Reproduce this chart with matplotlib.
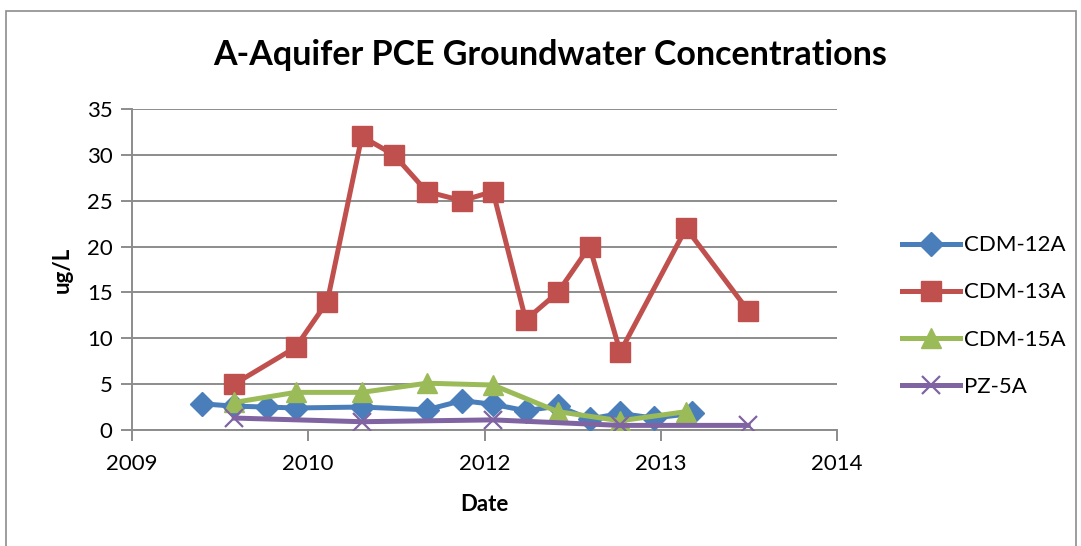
import matplotlib
matplotlib.use("Agg")
import matplotlib.pyplot as plt
import matplotlib.dates as mdates
from matplotlib.patches import Rectangle
import numpy as np

plt.rcParams['font.family'] = ['Lato', 'DejaVu Sans']

# sampling dates and PCE concentrations (ug/L)
dates_12a = ['2010-01-20', '2010-04-22', '2010-07-23', '2010-10-13', '2011-04-19',
             '2011-10-20', '2012-01-28', '2012-04-25', '2012-07-27', '2012-10-26',
             '2013-01-24', '2013-04-21', '2013-07-25', '2013-11-11']
cdm_12a = [2.85, 2.6, 2.5, 2.4, 2.5, 2.2, 3.2, 2.8, 2.1, 2.6, 1.2, 1.8, 1.3, 1.8]

dates_13a = ['2010-04-22', '2010-10-13', '2011-01-11', '2011-04-19', '2011-07-19',
             '2011-10-20', '2012-01-28', '2012-04-25', '2012-07-27', '2012-10-26',
             '2013-01-24', '2013-04-21', '2013-10-25', '2014-04-19']
cdm_13a = [5, 9, 14, 32, 30, 26, 25, 26, 12, 15, 20, 8.5, 22, 13]

dates_15a = ['2010-04-22', '2010-10-13', '2011-04-19', '2011-10-20', '2012-04-25',
             '2012-10-26', '2013-04-21', '2013-10-25']
cdm_15a = [3.0, 4.1, 4.1, 5.1, 4.9, 2.0, 1.0, 2.0]

dates_pz5a = ['2010-04-22', '2011-04-19', '2012-04-25', '2013-04-21', '2014-04-19']
pz_5a = [1.3, 0.9, 1.1, 0.5, 0.5]

def to_num(ds):
    return mdates.datestr2num(ds)

fig = plt.figure(figsize=(10.81, 5.46), dpi=100)
ax = fig.add_axes([0.1221, 0.2125, 0.6522, 0.5879])

fig.patches.append(Rectangle((6 / 1081, -0.05), 1070 / 1081, 1.05 - 11 / 546,
                             transform=fig.transFigure, fill=False,
                             edgecolor='#8c8c8c', linewidth=1.2))

lw = 3.6
ax.plot(to_num(dates_12a), cdm_12a, color='#4a7ebb', lw=lw, marker='D', ms=12,
        label='CDM-12A', zorder=3)
ax.plot(to_num(dates_13a), cdm_13a, color='#c0504d', lw=lw, marker='s', ms=14,
        label='CDM-13A', zorder=3)
ax.plot(to_num(dates_15a), cdm_15a, color='#9bbb59', lw=lw, marker='^', ms=14,
        label='CDM-15A', zorder=3)
ax.plot(to_num(dates_pz5a), pz_5a, color='#8064a2', lw=lw, marker='x', ms=13,
        mew=1.6, label='PZ-5A', zorder=3)

# Excel-style date axis: 500-day major unit starting at serial 40000
x0 = mdates.datestr2num('2009-07-06')
ax.set_xlim(x0, x0 + 2000)
ax.set_xticks(x0 + np.arange(0, 2001, 500))
ax.xaxis.set_major_formatter(mdates.DateFormatter('%Y'))
ax.set_ylim(0, 35)
ax.set_yticks(np.arange(0, 36, 5))

ax.grid(axis='y', color='#8c8c8c', lw=1.4)
ax.set_axisbelow(True)
for s in ['top', 'right']:
    ax.spines[s].set_visible(False)
for s in ['left', 'bottom']:
    ax.spines[s].set_color('#8c8c8c')
    ax.spines[s].set_linewidth(1.4)
ax.tick_params(axis='both', colors='#8c8c8c', length=8, width=1.4, labelsize=16,
               labelcolor='black', pad=6)
ax.tick_params(axis='x', pad=9)

ax.set_xlabel('Date', fontsize=16, fontweight='bold', labelpad=15)
ax.set_ylabel('ug/L', fontsize=16, fontweight='bold', labelpad=10)
fig.text(0.509, 0.9, 'A-Aquifer PCE Groundwater Concentrations', ha='center',
         va='center', fontsize=24.5, fontweight='bold')

fig.legend(*ax.get_legend_handles_labels(), loc='center left',
           bbox_to_anchor=(902 / 1081, 1 - 316 / 546), frameon=False,
           fontsize=16, handlelength=2.6, labelspacing=1.22, handletextpad=0.2,
           borderaxespad=0, borderpad=0)

fig.savefig('out.png', dpi=100)
